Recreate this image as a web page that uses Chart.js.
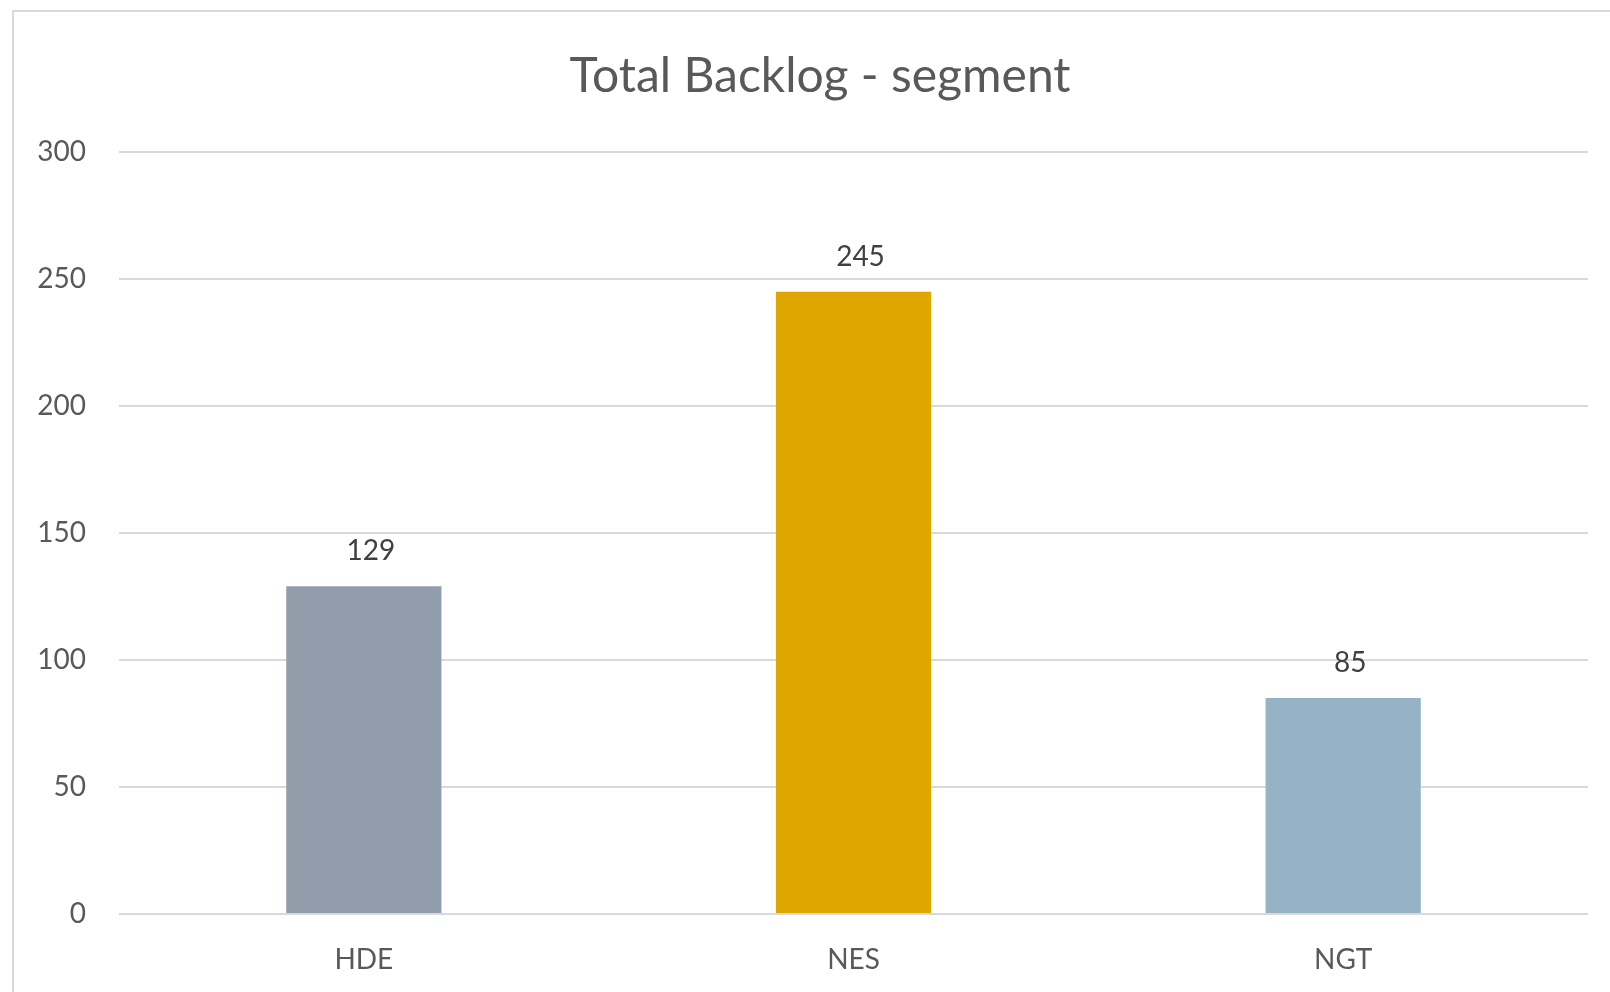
<!DOCTYPE html>
<html>
<head>
<meta charset="utf-8">
<script src="https://cdn.jsdelivr.net/npm/chart.js@4/dist/chart.umd.min.js"></script>
<style>
  html, body { margin: 0; padding: 0; background: #ffffff; overflow: hidden; }
  #wrap { position: absolute; left: 0; top: 0; width: 1610px; height: 992px; }
  #frame { position: absolute; left: 12px; top: 10px; width: 1700px; height: 1100px;
           border-left: 2px solid #d9d9d9; border-top: 2px solid #d9d9d9; box-sizing: border-box; }
  canvas { position: absolute; left: 0; top: 0; }
</style>
</head>
<body>
<div id="wrap">
  <div id="frame"></div>
  <canvas id="c" width="1610" height="992"></canvas>
</div>
<script>
const categories = ["HDE", "NES", "NGT"];
const backlogValues = [129, 245, 85];
const barColors = ["#929DAC", "#E0A600", "#96B3C5"];
const yTicks = [0, 50, 100, 150, 200, 250, 300];
const chartTitle = "Total Backlog - segment";

const FONT = "Lato, 'Open Sans', sans-serif";

const titleText = {
  id: 'titleText',
  afterDraw(chart) {
    const ctx = chart.ctx;
    ctx.save();
    ctx.font = "48px " + FONT;
    ctx.fillStyle = "#595959";
    ctx.textAlign = "center";
    ctx.textBaseline = "alphabetic";
    ctx.fillText(chartTitle, chart.width / 2 + 15, 92);
    ctx.restore();
  }
};

const valueLabels = {
  id: 'valueLabels',
  afterDatasetsDraw(chart) {
    const ctx = chart.ctx;
    const meta = chart.getDatasetMeta(0);
    ctx.save();
    ctx.font = "28px " + FONT;
    ctx.fillStyle = "#404040";
    ctx.textAlign = "center";
    ctx.textBaseline = "bottom";
    meta.data.forEach((bar, i) => {
      ctx.fillText(String(chart.data.datasets[0].data[i]), bar.x + 7, bar.y - 21);
    });
    ctx.restore();
  }
};

new Chart(document.getElementById('c'), {
  type: 'bar',
  data: {
    labels: categories,
    datasets: [{
      data: backlogValues,
      backgroundColor: barColors,
      borderWidth: 0,
      barPercentage: 0.317,
      categoryPercentage: 1.0
    }]
  },
  options: {
    responsive: false,
    animation: false,
    devicePixelRatio: 1,
    layout: { padding: { left: 14, right: 22, top: 152, bottom: 0 } },
    plugins: {
      legend: { display: false },
      tooltip: { enabled: false },
      title: { display: false }
    },
    scales: {
      x: {
        grid: { display: false, drawTicks: false },
        border: { display: false },
        ticks: { color: "#595959", font: { family: FONT, size: 28 }, padding: 29 },
        afterFit(scale) { scale.height = 78; }
      },
      y: {
        min: 0, max: 300,
        afterBuildTicks(scale) { scale.ticks = yTicks.map(v => ({ value: v })); },
        grid: { color: "#d9d9d9", lineWidth: 2, drawTicks: false },
        border: { display: false },
        ticks: { color: "#595959", font: { family: FONT, size: 28 }, padding: 33 },
        afterFit(scale) { scale.width = 105; }
      }
    }
  },
  plugins: [valueLabels, titleText]
});
</script>
</body>
</html>
